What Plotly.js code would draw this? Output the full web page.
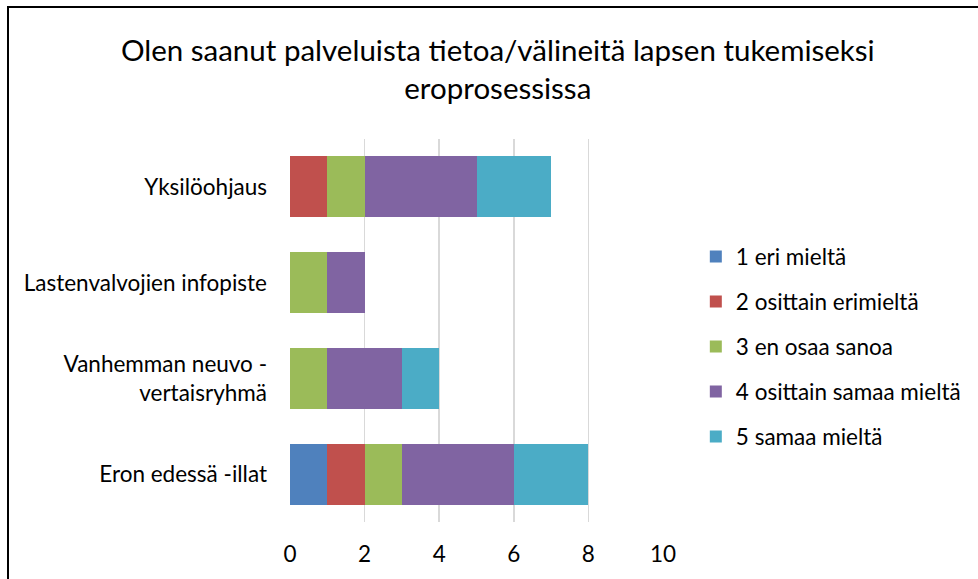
<!DOCTYPE html>
<html>
<head>
<meta charset="utf-8">
<script src="https://cdn.plot.ly/plotly-3.0.1.min.js"></script>
<style>
html, body { margin: 0; padding: 0; background: #fff; overflow: hidden; }
#wrap { position: relative; width: 978px; height: 579px; overflow: hidden; }
#chart { position: absolute; left: 0; top: 0; width: 978px; height: 579px; }
#frame { position: absolute; left: 7px; top: 6px; width: 2000px; height: 2000px;
  border-left: 2px solid #000; border-top: 2px solid #000; pointer-events: none; }
</style>
</head>
<body>
<div id="wrap">
  <div id="chart"></div>
  <div id="frame"></div>
</div>
<script>
const titleText = "Olen saanut palveluista tietoa/välineitä lapsen tukemiseksi<br>eroprosessissa";
// categories listed bottom to top
const categories = ["Eron edessä -illat", "Vanhemman neuvo -<br>vertaisryhmä", "Lastenvalvojien infopiste", "Yksilöohjaus"];
const seriesNames = ["1 eri mieltä", "2 osittain erimieltä", "3 en osaa sanoa", "4 osittain samaa mieltä", "5 samaa mieltä"];
const s1 = [1, 0, 0, 0];
const s2 = [1, 0, 0, 1];
const s3 = [1, 1, 1, 1];
const s4 = [3, 2, 1, 3];
const s5 = [2, 1, 0, 2];
const seriesValues = [s1, s2, s3, s4, s5];
const colors = ["#4F81BD", "#C0504D", "#9BBB59", "#8064A2", "#4BACC6"];
const xTicks = [0, 2, 4, 6, 8, 10];

const FONT = "Lato, 'Open Sans', sans-serif";
const LABEL_SIZE = 22.5;

const traces = seriesValues.map((vals, i) => ({
  type: "bar",
  orientation: "h",
  name: seriesNames[i],
  y: categories,
  x: vals,
  legendgroup: "g" + i,
  marker: { color: colors[i], line: { width: 0 } },
  hoverinfo: "skip"
}));

const layout = {
  width: 978,
  height: 579,
  margin: { l: 290, r: 313, t: 139, b: 57, pad: 0 },
  paper_bgcolor: "#fff",
  plot_bgcolor: "#fff",
  barmode: "stack",
  bargap: 0.363,
  showlegend: true,
  font: { family: FONT, size: LABEL_SIZE, color: "#000" },
  title: {
    text: titleText,
    font: { family: FONT, size: 29.5, color: "#000" },
    x: 0.509, xref: "container", xanchor: "center",
    y: 0.895, yref: "container", yanchor: "top"
  },
  xaxis: {
    range: [0, 10],
    tickvals: xTicks,
    ticktext: xTicks.map(String),
    showgrid: true,
    gridcolor: "#d9d9d9",
    gridwidth: 1.5,
    zeroline: false,
    showline: false,
    ticks: "",
    ticklabelstandoff: 16,
    tickfont: { family: FONT, size: LABEL_SIZE, color: "#000" },
    fixedrange: true
  },
  yaxis: {
    type: "category",
    showgrid: false,
    zeroline: false,
    showline: false,
    ticks: "",
    ticklabelstandoff: 22,
    tickfont: { family: FONT, size: LABEL_SIZE, color: "#000" },
    fixedrange: true
  },
  legend: {
    x: 1.088, xref: "paper", xanchor: "left",
    y: 0.457, yanchor: "middle",
    traceorder: "grouped",
    tracegroupgap: 12.75,
    font: { family: FONT, size: LABEL_SIZE, color: "#000" },
    bgcolor: "rgba(0,0,0,0)",
    borderwidth: 0
  }
};

Plotly.newPlot("chart", traces, layout, { displayModeBar: false, staticPlot: true });
</script>
</body>
</html>
